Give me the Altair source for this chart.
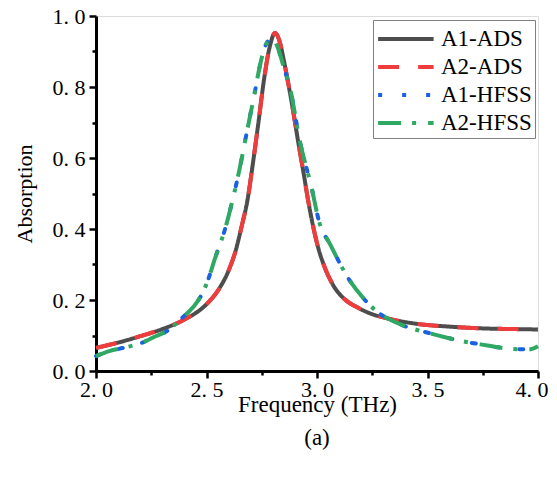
import altair as alt
import pandas as pd

# ADS simulation (A1-ADS and A2-ADS coincide)
freq_ads = [2.00, 2.10, 2.20, 2.30, 2.40, 2.50, 2.55, 2.60, 2.63, 2.66, 2.685, 2.71, 2.735,
            2.76, 2.785, 2.81, 2.83, 2.85, 2.87, 2.89, 2.915, 2.94, 2.96, 2.98, 3.00, 3.03,
            3.07, 3.12, 3.18, 3.25, 3.32, 3.45, 3.60, 3.75, 3.90, 4.00]
abs_ads = [0.065, 0.080, 0.098, 0.118, 0.145, 0.188, 0.225, 0.283, 0.335, 0.41, 0.48, 0.585, 0.70,
           0.82, 0.91, 0.952, 0.93, 0.875, 0.81, 0.74, 0.645, 0.555, 0.48, 0.415, 0.36, 0.30,
           0.245, 0.205, 0.18, 0.16, 0.148, 0.133, 0.125, 0.12, 0.118, 0.117]

# HFSS simulation (A1-HFSS and A2-HFSS coincide)
freq_hfss = [2.00, 2.06, 2.13, 2.21, 2.27, 2.32, 2.39, 2.44, 2.47, 2.50, 2.54, 2.584,
             2.62, 2.65, 2.68, 2.72, 2.74, 2.76, 2.78, 2.80, 2.82, 2.85, 2.878, 2.923, 2.976,
             3.01, 3.06, 3.15, 3.21, 3.27, 3.375, 3.525, 3.65, 3.74, 3.89, 3.96, 4.00]
abs_hfss = [0.042, 0.056, 0.066, 0.080, 0.098, 0.112, 0.150, 0.180, 0.206, 0.245, 0.32, 0.40,
            0.487, 0.57, 0.665, 0.79, 0.855, 0.905, 0.93, 0.935, 0.915, 0.855, 0.796, 0.646, 0.515,
            0.42, 0.356, 0.253, 0.205, 0.168, 0.132, 0.104, 0.085, 0.075, 0.062, 0.061, 0.070]

series_names = ["A1-ADS", "A2-ADS", "A1-HFSS", "A2-HFSS"]
series_colors = ["#4d4d4d", "#f03c3c", "#1a62e0", "#2ea862"]
series_dashes = [[1, 0], [21, 19], [4, 20], [23, 11, 4, 12]]
series_caps = ["butt", "butt", "round", "butt"]

rows = []
for name in series_names:
    fx, fy = (freq_ads, abs_ads) if "ADS" in name else (freq_hfss, abs_hfss)
    for i, (f, a) in enumerate(zip(fx, fy)):
        rows.append({"series": name, "freq": f, "absorption": a, "order": i})
df = pd.DataFrame(rows)

x_vals = [2.0, 2.25, 2.5, 2.75, 3.0, 3.25, 3.5, 3.75, 4.0]
y_vals = [0.0, 0.1, 0.2, 0.3, 0.4, 0.5, 0.6, 0.7, 0.8, 0.9, 1.0]

x_major = "abs(datum.value*2 - round(datum.value*2)) < 0.001"
y_major = "abs(datum.value*5 - round(datum.value*5)) < 0.001"
x_last = "datum.value > 3.99"

font = "Liberation Serif"

x_axis = alt.Axis(
    values=x_vals,
    labelExpr=f"({x_major}) ? replace(format(datum.value, '.1f'), '.', '. ') : ''",
    tickSize={"condition": {"test": x_major, "value": 7}, "value": 4},
    labelAlign={"condition": {"test": x_last, "value": "right"}, "value": "center"},
    labelOffset={"condition": {"test": x_last, "value": 10}, "value": 0},
    tickWidth=2.5, tickColor="black", domainColor="black", domainWidth=3,
    grid=False, labelFont=font, labelFontSize=22, labelColor="black",
    labelPadding=1, labelOverlap=False, labelFlush=False,
    title="Frequency (THz)", titleFont=font, titleFontSize=23,
    titleFontWeight="normal", titleColor="black", titlePadding=-7,
)
y_axis = alt.Axis(
    values=y_vals,
    labelExpr=f"({y_major}) ? replace(format(datum.value, '.1f'), '.', '. ') : ''",
    tickSize={"condition": {"test": y_major, "value": 7}, "value": 4},
    tickWidth=2.5, tickColor="black", domainColor="black", domainWidth=3,
    grid=False, labelFont=font, labelFontSize=22, labelColor="black",
    labelPadding=4, labelOverlap=False, labelFlush=False,
    title="Absorption", titleFont=font, titleFontSize=22,
    titleFontWeight="normal", titleColor="black", titlePadding=16,
)

base = alt.Chart(df).encode(
    x=alt.X("freq:Q", scale=alt.Scale(domain=[2.0, 4.0], nice=False), axis=x_axis),
    y=alt.Y("absorption:Q", scale=alt.Scale(domain=[0.0, 1.0], nice=False), axis=y_axis),
    color=alt.Color("series:N", scale=alt.Scale(domain=series_names, range=series_colors),
                    sort=series_names,
                    legend=alt.Legend(
                        title=None, orient="none", legendX=277, legendY=4,
                        symbolType="M-1,0H3", symbolSize=770, symbolStrokeWidth=4,
                        labelFont=font, labelFontSize=23, labelColor="black",
                        labelOffset=33, rowPadding=0, padding=3,
                        strokeColor="#808080", fillColor="white",
                    )),
    strokeDash=alt.StrokeDash("series:N", scale=alt.Scale(domain=series_names, range=series_dashes),
                              sort=series_names, legend=None),
    order="order:Q",
)

layers = []
for name, cap in zip(series_names, series_caps):
    layers.append(
        base.transform_filter(alt.datum.series == name)
        .mark_line(strokeWidth=4, interpolate="monotone", strokeCap=cap)
    )

chart = alt.layer(*layers).properties(
    width=442, height=355,
    autosize="none",
    padding={"left": 88, "top": 8, "right": 11, "bottom": 104},
    title=alt.TitleParams("(a)", orient="bottom", anchor="middle", font=font,
                          fontSize=23, fontWeight="normal", color="black", offset=11),
).configure_view(stroke="black", strokeWidth=3).configure(background="white")

chart.save("out.html", embed_options={"renderer": "svg", "actions": False})
